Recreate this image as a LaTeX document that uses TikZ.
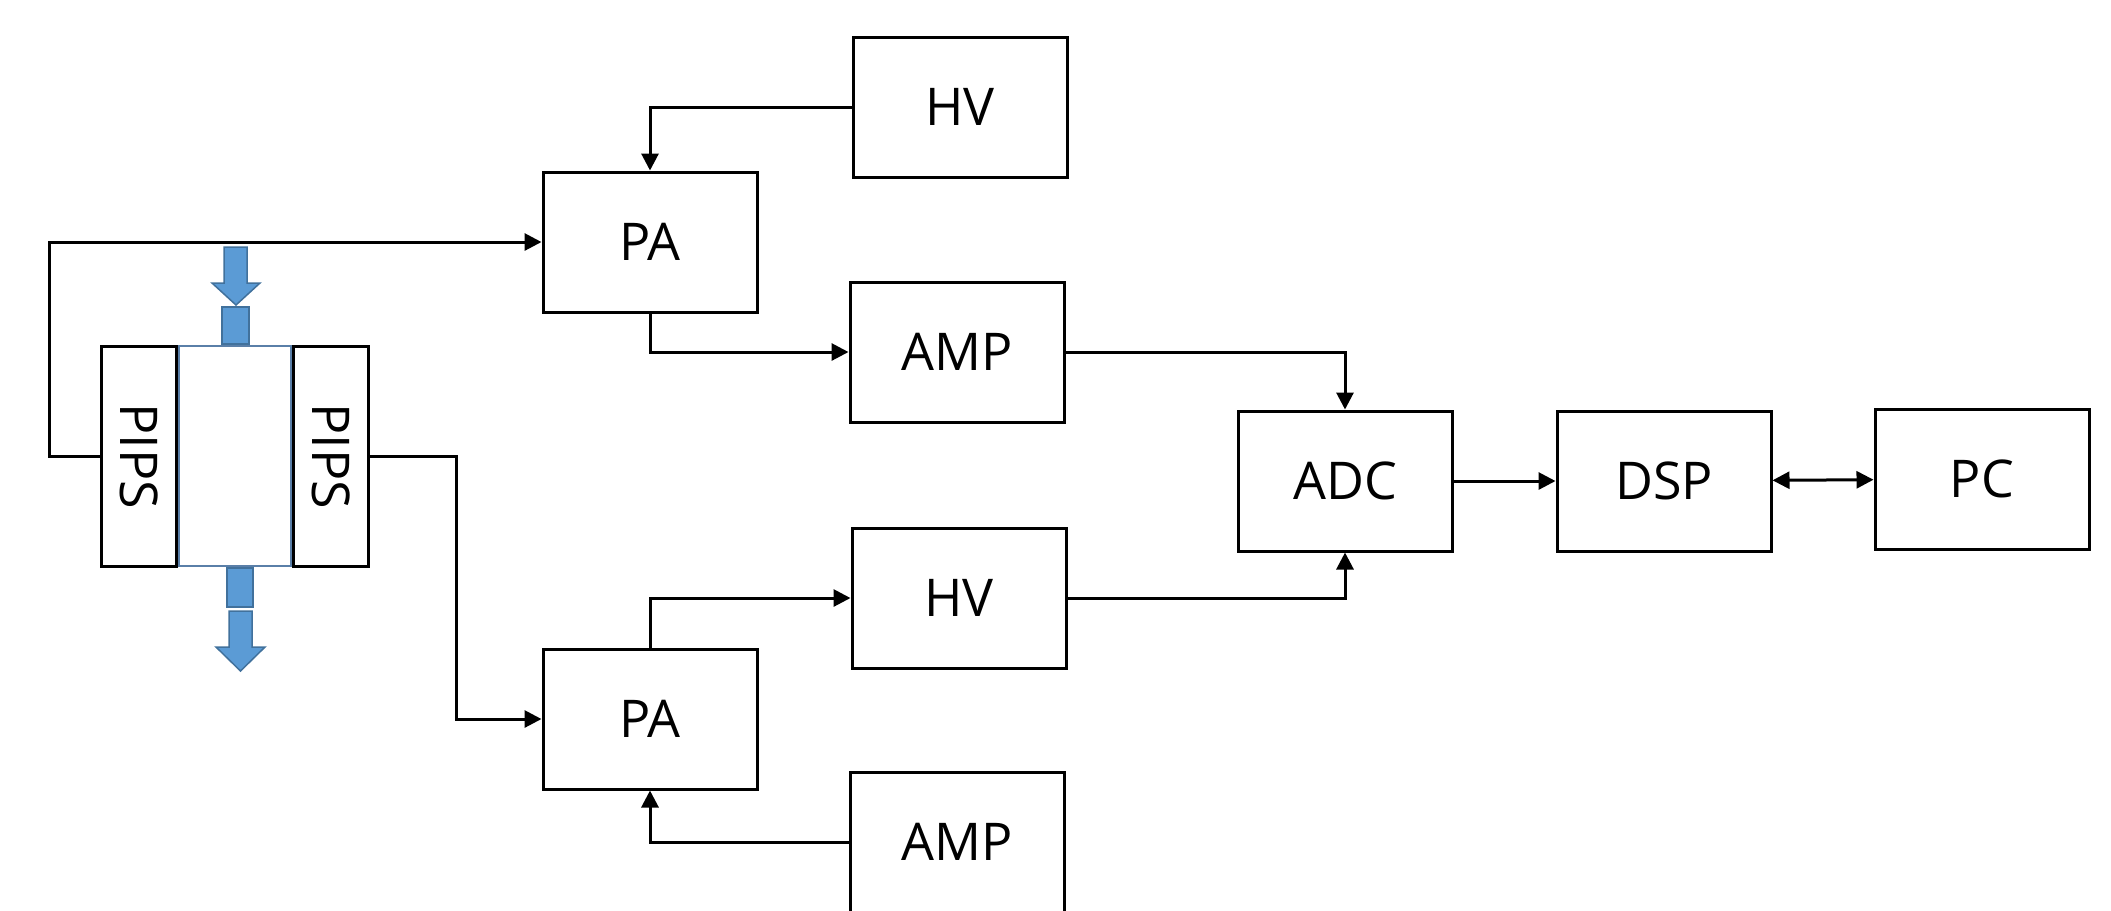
\documentclass[tikz,border=0pt]{standalone}
\usepackage{fontspec}
\setmainfont{Open Sans}
\usepackage{tikz}
\usetikzlibrary{arrows.meta,positioning}
\definecolor{BeamBlue}{HTML}{5B9BD5}
\definecolor{BeamEdge}{HTML}{41719C}
\definecolor{CellEdge}{HTML}{5A7FA8}
\begin{document}
\begin{tikzpicture}[
  x=0.1mm,y=-0.1mm,
  box/.style={draw=black,line width=0.3mm,minimum width=21.4mm,minimum height=14.0mm,inner sep=0pt,font=\fontsize{14.8}{17}\selectfont},
  pips/.style={box,minimum width=7.5mm,minimum height=22.0mm},
  cell/.style={draw=CellEdge,line width=0.2mm,minimum width=11.2mm,minimum height=22.0mm,inner sep=0pt},
  beam/.style={fill=BeamBlue,draw=BeamEdge,line width=0.15mm},
  arr/.style={-{Triangle[length=1.7mm,width=1.7mm]},line width=0.3mm},
  darr/.style={{Triangle[length=1.7mm,width=1.7mm]}-{Triangle[length=1.7mm,width=1.7mm]},line width=0.3mm}
]
\useasboundingbox (0,0) rectangle (2111,910);
\node[box] (hvA) at (960,107) {HV};
\node[box] (paA) at (650,242) {PA};
\node[box] (ampA) at (957,352) {AMP};
\node[box] (adc) at (1345,481) {ADC};
\node[box] (dsp) at (1664,481) {DSP};
\node[box] (pc) at (1982,479) {PC};
\node[box] (hvB) at (959,598) {HV};
\node[box] (paB) at (650,719) {PA};
\node[box] (ampB) at (957,842) {AMP};
\node[cell] (gap) at (235,456) {};
\node[pips,left=0pt of gap] (pipsL) {\rotatebox{-90}{PIPS}};
\node[pips,right=0pt of gap] (pipsR) {\rotatebox{-90}{PIPS}};
\coordinate (loopL) at (49,456);
\coordinate (turnR) at (456,456);
\fill[beam] (224,247) -- (247,247) -- (247,283) -- (260,283) -- (236,305) -- (212,283) -- (224,283) -- cycle;
\fill[beam] (222,307) rectangle (249,344);
\fill[beam] (227,568) rectangle (253,607);
\fill[beam] (229,611) -- (252,611) -- (252,647) -- (265,647) -- (240.5,671) -- (216,647) -- (229,647) -- cycle;
\draw[arr] (hvA.west) -| (paA.north);
\draw[arr] (paA.south) |- (ampA.west);
\draw[arr] (ampA.east) -| (adc.north);
\draw[arr] (hvB.east) -| (adc.south);
\draw[arr] (adc) -- (dsp);
\draw[darr] (dsp) -- (pc);
\draw[arr] (paB.north) |- (hvB.west);
\draw[arr] (ampB.west) -| (paB.south);
\draw[arr] (pipsL.west) -- (loopL) |- (paA.west);
\draw[arr] (pipsR.east) -- (turnR) |- (paB.west);
\end{tikzpicture}
\end{document}
